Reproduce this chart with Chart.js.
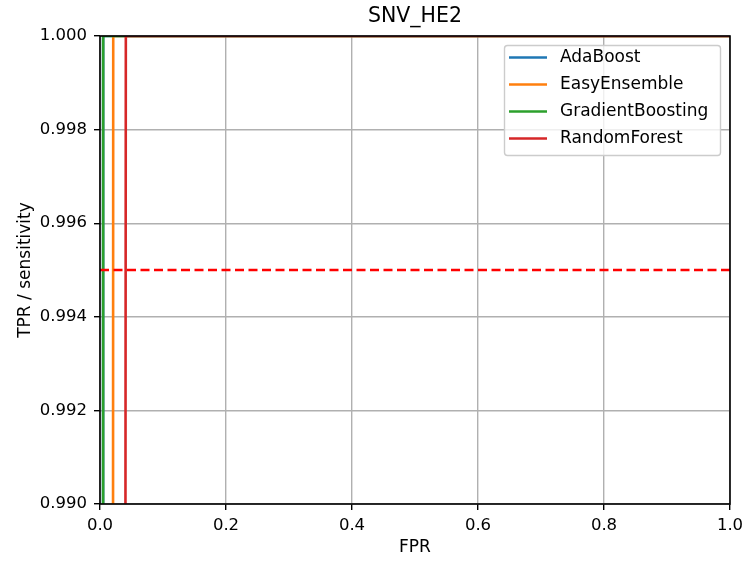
<!DOCTYPE html>
<html>
<head>
<meta charset="utf-8">
<script src="https://cdn.jsdelivr.net/npm/chart.js@4/dist/chart.umd.min.js"></script>
<style>
  html, body { margin: 0; padding: 0; background: #fff; }
  #wrap { width: 744px; height: 563px; }
</style>
</head>
<body>
<div id="wrap"><canvas id="roc" width="744" height="563"></canvas></div>
<script>
// ROC curves per model (FPR / TPR pairs)
const models = ['AdaBoost', 'EasyEnsemble', 'GradientBoosting', 'RandomForest'];
const colors = ['#1f77b4', '#ff7f0e', '#2ca02c', '#d62728'];
const adaFpr = [0, 0.005, 1];
const adaTpr = [0, 1, 1];
const easyFpr = [0, 0.021, 1];
const easyTpr = [0, 1, 1];
const gbFpr = [0, 0.005, 1];
const gbTpr = [0, 1, 1];
const rfFpr = [0, 0.041, 1];
const rfTpr = [0, 1, 1];
const tprThreshold = 0.995;
const xTicks = [0, 0.2, 0.4, 0.6, 0.8, 1.0];
const yTicks = [0.990, 0.992, 0.994, 0.996, 0.998, 1.000];

const fprs = [adaFpr, easyFpr, gbFpr, rfFpr];
const tprs = [adaTpr, easyTpr, gbTpr, rfTpr];

const FONT = 'DejaVu Sans';

// later models are painted over earlier ones; the threshold line goes on top
const curveSets = models.map((m, i) => ({
  label: m,
  data: fprs[i].map((x, k) => ({ x: x, y: tprs[i][k] })),
  borderColor: colors[i],
  backgroundColor: colors[i],
  borderWidth: 2.6,
  pointRadius: 0,
  tension: 0,
  fill: false,
  clip: 0,
  order: models.length - i
}));

const thresholdSet = {
  label: 'threshold',
  data: [{ x: 0, y: tprThreshold }, { x: 1, y: tprThreshold }],
  borderColor: '#ff0000',
  borderWidth: 2.6,
  borderDash: [9, 4.5],
  pointRadius: 0,
  fill: false,
  clip: 0,
  order: 0
};

// Title, axis labels, frame and legend
const decorations = {
  id: 'decorations',
  afterDraw(chart) {
    const ctx = chart.ctx;
    const a = chart.chartArea;
    ctx.save();
    // frame
    ctx.strokeStyle = '#000';
    ctx.lineWidth = 1.6;
    ctx.strokeRect(a.left, a.top, a.right - a.left, a.bottom - a.top);
    // title
    ctx.fillStyle = '#000';
    ctx.font = '20.5px "' + FONT + '"';
    ctx.textAlign = 'center';
    ctx.textBaseline = 'middle';
    ctx.fillText('SNV_HE2', (a.left + a.right) / 2, 17);
    // axis labels
    ctx.font = '17px "' + FONT + '"';
    ctx.fillText('FPR', (a.left + a.right) / 2, 548);
    ctx.save();
    ctx.translate(26, (a.top + a.bottom) / 2);
    ctx.rotate(-Math.PI / 2);
    ctx.fillText('TPR / sensitivity', 0, 0);
    ctx.restore();
    // legend
    const bx = 504.5, by = 45.5, bw = 216, bh = 110, r = 3;
    ctx.beginPath();
    ctx.moveTo(bx + r, by);
    ctx.arcTo(bx + bw, by, bx + bw, by + bh, r);
    ctx.arcTo(bx + bw, by + bh, bx, by + bh, r);
    ctx.arcTo(bx, by + bh, bx, by, r);
    ctx.arcTo(bx, by, bx + bw, by, r);
    ctx.closePath();
    ctx.fillStyle = 'rgba(255,255,255,0.8)';
    ctx.fill();
    ctx.strokeStyle = '#cccccc';
    ctx.lineWidth = 1.4;
    ctx.stroke();
    ctx.font = '17px "' + FONT + '"';
    ctx.textAlign = 'left';
    ctx.textBaseline = 'middle';
    models.forEach((m, i) => {
      const y = 57.5 + i * 27;
      ctx.strokeStyle = colors[i];
      ctx.lineWidth = 2.6;
      ctx.beginPath();
      ctx.moveTo(509, y);
      ctx.lineTo(547, y);
      ctx.stroke();
      ctx.fillStyle = '#000';
      ctx.fillText(m, 560, y);
    });
    ctx.restore();
  }
};

new Chart(document.getElementById('roc'), {
  type: 'line',
  data: { datasets: [...curveSets, thresholdSet] },
  options: {
    responsive: false,
    animation: false,
    events: [],
    layout: { padding: { top: 36, right: 14, left: 0, bottom: 0 } },
    plugins: {
      legend: { display: false },
      title: { display: false },
      tooltip: { enabled: false }
    },
    scales: {
      x: {
        type: 'linear',
        min: 0,
        max: 1,
        afterBuildTicks: s => { s.ticks = xTicks.map(v => ({ value: v })); },
        afterFit: s => { s.height = 59; s.paddingLeft = 0; s.paddingRight = 0; },
        grid: { color: '#b0b0b0', lineWidth: 1.4, tickColor: '#000', tickLength: 6 },
        border: { display: false },
        ticks: {
          color: '#000',
          font: { family: FONT, size: 16.5 },
          padding: 6,
          maxRotation: 0,
          callback: v => v.toFixed(1)
        }
      },
      y: {
        type: 'linear',
        min: 0.99,
        max: 1.0,
        afterBuildTicks: s => { s.ticks = yTicks.map(v => ({ value: v })); },
        afterFit: s => { s.width = 100; s.paddingTop = 0; s.paddingBottom = 0; },
        grid: { color: '#b0b0b0', lineWidth: 1.4, tickColor: '#000', tickLength: 6 },
        border: { display: false },
        ticks: {
          color: '#000',
          font: { family: FONT, size: 16.5 },
          padding: 7,
          callback: v => v.toFixed(3)
        }
      }
    }
  },
  plugins: [decorations]
});
</script>
</body>
</html>
